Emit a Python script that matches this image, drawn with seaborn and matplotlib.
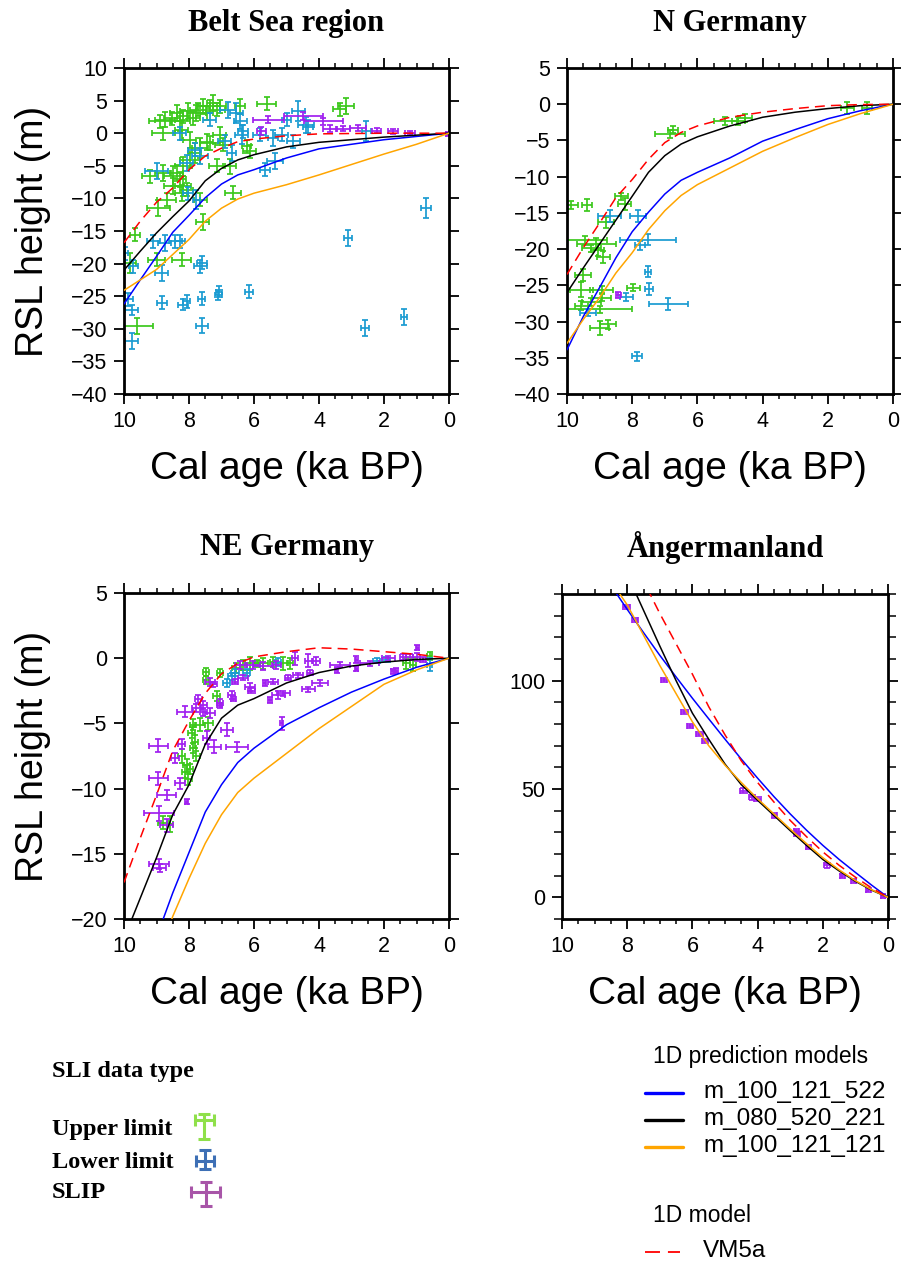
import numpy as np
import pandas as pd
import matplotlib
matplotlib.use("Agg")
import matplotlib.pyplot as plt
from matplotlib.ticker import MultipleLocator
import seaborn as sns

sns.set_style("ticks")
plt.rcParams['font.family'] = ['Liberation Sans', 'DejaVu Sans']
for k in ['text.color', 'axes.labelcolor', 'xtick.color', 'ytick.color', 'axes.edgecolor']:
    plt.rcParams[k] = 'black'

# ---------------- data ----------------
REGIONS = ["Belt Sea region", "N Germany", "NE Germany", "Ångermanland"]
MODELS = ["m_100_121_522", "m_080_520_221", "m_100_121_121", "VM5a"]

# model curves: ages (ka BP) and RSL (m)
BS_AGES = [10, 9.5, 9, 8.5, 8, 7.5, 7, 6.5, 6, 5, 4, 3, 2, 1, 0]
BS_M522 = [-26.2, -22.5, -18.9, -15.2, -12.6, -9.9, -7.8, -6.4, -5.6, -3.8, -2.4, -1.7, -1.0, -0.5, 0]
BS_M221 = [-21.0, -18.1, -15.3, -12.8, -10.4, -7.3, -5.4, -4.1, -3.3, -2.1, -1.4, -1.0, -0.6, -0.3, 0]
BS_M121 = [-24.1, -22.5, -20.9, -18.6, -16.3, -13.5, -11.5, -10.1, -9.2, -7.9, -6.4, -4.8, -3.2, -1.7, 0]
BS_VM5A = [-16.8, -13.5, -10.6, -8.4, -5.6, -3.5, -2.3, -1.3, -0.9, -0.4, -0.1, -0.05, 0, 0, 0]

NG_AGES = [10, 9.5, 9, 8.5, 8, 7.5, 7, 6.5, 6, 5, 4, 3, 2, 1, 0]
NG_M522 = [-33.9, -29.3, -25.3, -21.2, -17.6, -14.9, -12.4, -10.5, -9.4, -7.4, -5.1, -3.5, -2.0, -0.9, 0]
NG_M221 = [-26.0, -22.6, -19.3, -16.0, -12.7, -9.4, -7.1, -5.5, -4.5, -3.0, -1.8, -1.1, -0.6, -0.2, 0]
NG_M121 = [-33.0, -29.7, -26.7, -23.3, -20.5, -17.3, -14.7, -12.6, -11.1, -8.8, -6.5, -4.6, -2.8, -1.3, 0]
NG_VM5A = [-23.5, -19.8, -16.4, -12.9, -10.4, -7.6, -5.3, -3.9, -3.0, -1.8, -1.1, -0.6, -0.2, -0.05, 0]

NE_AGES = [10, 9.5, 9, 8.5, 8, 7.5, 7, 6.5, 6, 5, 4, 3, 2, 1, 0]
NE_M522 = [-28.0, -24.8, -21.4, -18.0, -14.9, -11.8, -9.7, -8.0, -6.9, -5.1, -3.8, -2.6, -1.6, -0.7, 0]
NE_M221 = [-21.5, -18.4, -15.3, -12.0, -9.7, -6.6, -4.6, -3.6, -3.1, -1.9, -1.1, -0.6, -0.3, -0.1, 0]
NE_M121 = [-30.0, -26.5, -23.3, -19.8, -16.9, -14.2, -12.0, -10.3, -9.2, -7.3, -5.4, -3.7, -2.0, -0.9, 0]
NE_VM5A = [-17.2, -13.8, -10.5, -7.1, -4.8, -2.7, -1.2, -0.4, 0.1, 0.5, 0.8, 0.7, 0.5, 0.3, 0]

AN_AGES = [9, 8.5, 8, 7.5, 7, 6.5, 6, 5.5, 5, 4.5, 4, 3.5, 3, 2.5, 2, 1.5, 1, 0.5, 0]
AN_M522 = [155, 144, 132.9, 122.2, 111.7, 101.7, 91.9, 82.4, 73.0, 63.8, 55.0, 46.5, 38.5, 31.0, 24.0, 17.5, 11.5, 5.6, 0]
AN_M221 = [167, 158, 149, 132.5, 116, 100, 85, 73, 61.5, 52, 44.8, 37.8, 30.8, 24.0, 17.5, 12.2, 7.4, 3.3, 0]
AN_M121 = [152, 146, 135, 121, 107, 94, 81, 70, 61, 53, 45.5, 38.5, 31.5, 24.8, 18.3, 12.7, 7.7, 3.5, 0]
AN_VM5A = [180, 168, 156, 146, 131, 117, 103, 88, 75, 63, 53, 44, 35.5, 28, 21, 14.8, 9.3, 4.3, 0]

# SLI data: (age, rsl, age error, rsl error)
BS_UPPER = [(8.89, 1.8, 0.35, 1.0), (8.74, 2.1, 0.3, 1.2), (8.53, 2.3, 0.25, 1.0), (8.38, 3.1, 0.2, 1.2),
            (8.28, 1.8, 0.3, 1.5), (8.18, 2.6, 0.2, 1.0), (8.02, 3.4, 0.25, 1.2), (7.87, 2.3, 0.2, 1.0),
            (7.72, 3.6, 0.25, 1.0), (7.56, 4.1, 0.2, 1.2), (7.36, 4.1, 0.3, 1.0), (7.26, 4.6, 0.2, 1.2),
            (7.15, 3.6, 0.25, 1.0), (7.46, 3.1, 0.2, 1.0), (7.77, 3.1, 0.3, 1.2), (7.05, 4.1, 0.2, 1.0),
            (6.43, 4.1, 0.15, 1.2), (5.61, 4.5, 0.3, 1.0), (3.36, 3.7, 0.2, 1.0), (3.16, 4.2, 0.25, 1.2),
            (8.79, 0.0, 0.35, 1.0), (8.23, 0.5, 0.2, 1.5), (7.97, -1.0, 0.2, 1.2), (7.66, -2.3, 0.25, 1.5),
            (7.46, -1.3, 0.2, 1.2), (7.36, -1.5, 0.3, 1.0), (7.05, -0.2, 0.2, 1.2), (6.95, -1.8, 0.25, 1.0),
            (7.82, -3.0, 0.2, 1.5), (7.97, -4.1, 0.3, 1.2), (8.18, -5.1, 0.25, 1.5), (8.38, -6.1, 0.2, 1.2),
            (8.48, -6.6, 0.3, 1.5), (8.28, -7.1, 0.2, 1.2), (8.18, -8.1, 0.25, 1.5), (8.23, -9.2, 0.2, 1.2),
            (9.20, -6.6, 0.25, 1.0), (8.79, -6.1, 0.25, 1.2), (8.07, -8.7, 0.2, 1.0), (8.48, -8.1, 0.3, 1.2),
            (8.69, -10.2, 0.3, 1.0), (8.94, -11.5, 0.35, 1.2), (7.66, -10.2, 0.2, 1.0), (6.64, -9.1, 0.25, 1.0),
            (7.15, -5.0, 0.25, 1.0), (6.74, -5.1, 0.2, 1.2), (6.13, -2.8, 0.2, 1.0), (6.23, -2.0, 0.15, 1.0),
            (7.58, -13.6, 0.2, 1.2), (9.66, -15.6, 0.15, 1.0), (9.82, -19.9, 0.2, 1.5), (9.00, -19.4, 0.25, 1.0),
            (8.23, -19.4, 0.3, 1.0), (9.61, -29.6, 0.5, 1.2)]
BS_LOWER = [(6.79, 3.6, 0.25, 1.2), (6.54, 3.1, 0.2, 1.5), (6.43, 1.8, 0.2, 1.2), (4.64, 3.4, 0.2, 1.5),
            (4.39, 1.3, 0.25, 1.2), (4.34, 1.0, 0.15, 1.0), (5.00, 2.1, 0.15, 1.0), (8.28, 0.0, 0.2, 1.0),
            (7.36, 2.1, 0.2, 1.0), (6.38, -0.2, 0.2, 1.5), (6.33, 0.3, 0.15, 1.0), (5.82, -0.2, 0.2, 1.0),
            (5.41, -0.7, 0.15, 1.2), (5.15, -0.2, 0.2, 1.0), (4.80, -1.2, 0.2, 1.0), (2.54, 0.3, 0.15, 1.5),
            (6.90, -1.2, 0.2, 1.0), (6.69, -3.0, 0.15, 1.2), (7.66, -3.5, 0.25, 1.2), (7.82, -2.5, 0.2, 1.0),
            (8.07, -4.6, 0.2, 1.2), (8.02, -9.2, 0.15, 1.0), (7.77, -10.2, 0.1, 1.5), (5.67, -5.6, 0.15, 1.0),
            (5.36, -4.3, 0.25, 1.2), (9.00, -5.8, 0.35, 1.2), (0.70, -11.5, 0.15, 1.5), (3.10, -16.1, 0.12, 1.2),
            (9.10, -16.6, 0.2, 1.0), (8.74, -16.8, 0.2, 1.2), (8.43, -16.6, 0.2, 1.0), (8.28, -16.6, 0.15, 1.0),
            (9.97, -18.4, 0.1, 1.0), (9.71, -20.4, 0.15, 1.0), (8.84, -21.4, 0.2, 1.2), (7.66, -20.4, 0.2, 1.0),
            (7.61, -19.9, 0.15, 1.0), (9.87, -25.5, 0.15, 1.0), (9.76, -27.1, 0.2, 0.8), (8.84, -26.0, 0.15, 1.0),
            (8.18, -26.3, 0.15, 0.8), (8.07, -25.8, 0.1, 1.0), (7.61, -25.4, 0.1, 1.0), (7.10, -24.8, 0.1, 0.8),
            (7.08, -24.3, 0.1, 0.8), (6.15, -24.3, 0.12, 1.0), (7.61, -29.5, 0.18, 1.2), (2.59, -29.9, 0.12, 1.2),
            (1.39, -28.2, 0.1, 1.2), (9.76, -31.9, 0.2, 1.2)]
BS_SLIP = [(5.56, 2.1, 0.47, 0.6), (4.49, 2.6, 0.6, 0.6), (3.87, 1.8, 0.6, 0.5), (3.67, 0.7, 0.2, 0.5),
           (3.26, 0.7, 0.2, 0.4), (2.80, 0.8, 0.25, 0.4), (2.23, 0.4, 0.15, 0.4), (1.72, 0.3, 0.15, 0.4),
           (1.21, 0.1, 0.15, 0.3), (5.77, 0.3, 0.15, 0.6), (0.03, -0.1, 0.05, 0.3)]

NG_UPPER = [(9.87, -13.9, 0.2, 0.5), (9.38, -13.9, 0.15, 0.8), (8.33, -12.7, 0.2, 0.5), (8.23, -13.8, 0.2, 0.8),
            (8.81, -16.3, 0.25, 0.8), (9.46, -18.8, 0.7, 0.6), (9.10, -19.3, 0.6, 0.8), (9.25, -19.9, 0.3, 0.5),
            (9.05, -20.1, 0.2, 0.8), (8.89, -21.1, 0.2, 0.8), (9.51, -23.6, 0.25, 0.8), (9.56, -25.6, 0.35, 1.0),
            (8.94, -25.6, 0.35, 0.5), (7.97, -25.3, 0.2, 0.5), (8.94, -26.7, 0.3, 0.5), (9.25, -27.3, 0.3, 0.6),
            (9.56, -27.8, 0.2, 0.6), (9.00, -28.3, 1.0, 0.5), (9.00, -30.9, 0.3, 1.0), (8.74, -30.4, 0.25, 0.6),
            (6.84, -4.1, 0.45, 0.5), (6.74, -3.5, 0.15, 0.5), (5.15, -2.3, 0.35, 0.5), (4.74, -2.3, 0.2, 0.5),
            (4.54, -1.9, 0.2, 0.5), (1.41, -0.5, 0.2, 0.8), (0.80, -0.5, 0.15, 0.8)]
NG_LOWER = [(8.69, -15.4, 0.35, 0.8), (7.82, -15.4, 0.25, 0.8), (7.51, -18.7, 0.85, 0.8), (7.75, -19.5, 0.15, 0.6),
            (7.51, -23.1, 0.1, 0.8), (7.48, -25.5, 0.12, 0.8), (8.18, -26.6, 0.2, 0.6), (6.90, -27.6, 0.6, 0.8),
            (9.35, -28.8, 0.25, 0.5), (7.85, -34.8, 0.15, 0.6)]
NG_SLIP = [(8.43, -26.3, 0.08, 0.4)]

NE_UPPER = [(7.48, -1.06, 0.08, 0.3), (7.48, -1.65, 0.08, 0.3), (7.05, -1.13, 0.1, 0.3), (7.15, -2.9, 0.1, 0.4),
            (7.66, -5.1, 0.15, 0.5), (7.87, -5.1, 0.1, 0.4), (7.41, -5.0, 0.15, 0.5), (7.92, -5.7, 0.1, 0.4),
            (7.82, -6.4, 0.1, 0.5), (7.87, -6.9, 0.1, 0.4), (8.23, -7.5, 0.1, 0.5), (7.77, -7.5, 0.1, 0.4),
            (8.07, -8.2, 0.1, 0.5), (7.97, -8.5, 0.1, 0.4), (8.12, -8.7, 0.1, 0.5), (8.02, -9.3, 0.1, 0.4),
            (8.79, -12.6, 0.15, 0.5), (8.59, -12.7, 0.1, 0.6), (6.54, -0.75, 0.15, 0.4), (6.33, -0.5, 0.1, 0.4),
            (6.13, -0.4, 0.15, 0.5), (5.92, -0.4, 0.1, 0.3), (5.72, -0.4, 0.15, 0.4), (5.41, -0.3, 0.1, 0.4),
            (5.10, -0.4, 0.15, 0.5), (4.90, -0.4, 0.1, 0.4), (1.31, -0.4, 0.1, 0.4), (1.11, -0.5, 0.1, 0.5),
            (0.59, 0.2, 0.08, 0.3)]
NE_LOWER = [(6.84, -1.9, 0.1, 0.3), (6.69, -1.4, 0.1, 0.3), (6.59, -1.1, 0.12, 0.3), (6.23, -1.1, 0.1, 0.3),
            (2.23, -0.2, 0.1, 0.2), (1.93, -0.1, 0.12, 0.2), (0.59, -0.5, 0.08, 0.5), (5.26, -0.3, 0.1, 0.3)]
NE_SLIP = [(7.71, -3.1, 0.1, 0.3), (7.56, -3.6, 0.1, 0.3), (7.36, -4.2, 0.15, 0.4), (7.05, -3.4, 0.1, 0.3),
           (7.05, -3.6, 0.08, 0.2), (6.69, -2.8, 0.1, 0.3), (6.64, -3.1, 0.08, 0.2), (8.12, -4.1, 0.25, 0.4),
           (7.77, -3.8, 0.15, 0.3), (7.56, -4.1, 0.1, 0.3), (7.46, -6.1, 0.1, 0.5), (6.84, -5.5, 0.18, 0.5),
           (7.23, -6.8, 0.2, 0.5), (6.52, -6.8, 0.35, 0.4), (8.94, -6.7, 0.3, 0.5), (8.23, -6.6, 0.1, 0.4),
           (8.43, -7.65, 0.12, 0.4), (8.28, -9.6, 0.15, 0.4), (8.07, -11.0, 0.05, 0.2), (8.94, -9.2, 0.3, 0.5),
           (8.69, -10.5, 0.3, 0.4), (8.92, -11.9, 0.45, 0.6), (8.69, -12.8, 0.2, 0.5), (8.92, -15.8, 0.3, 0.4),
           (8.90, -16.1, 0.2, 0.3), (5.15, -5.0, 0.05, 0.5), (4.33, -2.4, 0.2, 0.2), (3.97, -1.9, 0.25, 0.2),
           (5.51, -3.2, 0.05, 0.2), (5.26, -2.8, 0.2, 0.3), (5.10, -2.7, 0.2, 0.2), (6.13, -2.2, 0.15, 0.3),
           (6.08, -2.5, 0.1, 0.2), (5.67, -1.9, 0.05, 0.2), (5.41, -1.8, 0.15, 0.2), (4.95, -1.5, 0.1, 0.2),
           (4.64, -1.3, 0.15, 0.2), (4.28, -1.1, 0.1, 0.2), (3.46, -0.9, 0.05, 0.2), (2.85, -0.8, 0.05, 0.2),
           (1.72, -1.0, 0.05, 0.2), (1.62, -0.95, 0.05, 0.2), (6.43, -0.5, 0.15, 0.3), (6.02, -0.5, 0.2, 0.3),
           (5.72, -0.6, 0.3, 0.3), (5.31, -0.5, 0.15, 0.3), (4.74, 0.0, 0.1, 0.5), (4.33, -0.2, 0.1, 0.5),
           (4.08, -0.2, 0.1, 0.3), (3.36, -0.5, 0.3, 0.2), (2.85, -0.1, 0.05, 0.3), (2.44, -0.4, 0.3, 0.2),
           (1.87, 0.0, 0.2, 0.2), (1.41, 0.1, 0.1, 0.2), (1.21, 0.1, 0.1, 0.2), (1.00, 0.1, 0.1, 0.3),
           (0.80, -0.1, 0.1, 0.2), (0.98, 0.8, 0.05, 0.2), (7.36, -1.8, 0.15, 0.3), (7.25, -2.0, 0.1, 0.2),
           (6.59, -1.8, 0.1, 0.2), (6.33, -1.5, 0.15, 0.2)]

AN_SLIP = [(8.02, 134, 0.1, 1.0), (7.76, 128, 0.1, 1.0), (6.87, 100.3, 0.1, 1.0), (6.25, 85.4, 0.1, 1.0),
           (6.08, 79.1, 0.1, 1.0), (5.79, 75.3, 0.1, 1.0), (5.62, 72.2, 0.1, 1.0), (4.44, 49.3, 0.1, 1.0),
           (4.17, 46.1, 0.1, 1.0), (4.01, 45.3, 0.1, 1.0), (3.49, 37.8, 0.08, 1.0), (2.81, 30.4, 0.08, 1.2),
           (2.79, 29.2, 0.08, 1.0), (2.45, 23.2, 0.08, 1.0), (1.87, 14.7, 0.08, 1.0), (1.40, 10.0, 0.08, 1.0),
           (1.05, 7.4, 0.08, 1.0), (0.61, 3.4, 0.08, 1.0), (0.15, 0.5, 0.05, 0.8)]

SLI_TYPES = ["Upper limit", "Lower limit", "SLIP"]
SLI_COLORS = {"Upper limit": "#3cc81c", "Lower limit": "#1a9bd2", "SLIP": "#a020f0"}
SLI_LEGEND_COLORS = {"Upper limit": "#8fe04a", "Lower limit": "#3d6fb5", "SLIP": "#a855a8"}
MODEL_COLORS = {"m_100_121_522": "#0000ff", "m_080_520_221": "#000000",
                "m_100_121_121": "#ffa500", "VM5a": "#ff0000"}

# -------------- tables --------------
model_rows = []
for reg, ages, curves in [
        (REGIONS[0], BS_AGES, [BS_M522, BS_M221, BS_M121, BS_VM5A]),
        (REGIONS[1], NG_AGES, [NG_M522, NG_M221, NG_M121, NG_VM5A]),
        (REGIONS[2], NE_AGES, [NE_M522, NE_M221, NE_M121, NE_VM5A]),
        (REGIONS[3], AN_AGES, [AN_M522, AN_M221, AN_M121, AN_VM5A])]:
    for m, vals in zip(MODELS, curves):
        for a, v in zip(ages, vals):
            model_rows.append((reg, m, a, v))
models = pd.DataFrame(model_rows, columns=["region", "model", "age", "rsl"])

sli_rows = []
for reg, sets in [(REGIONS[0], [BS_UPPER, BS_LOWER, BS_SLIP]),
                  (REGIONS[1], [NG_UPPER, NG_LOWER, NG_SLIP]),
                  (REGIONS[2], [NE_UPPER, NE_LOWER, NE_SLIP]),
                  (REGIONS[3], [[], [], AN_SLIP])]:
    for t, pts in zip(SLI_TYPES, sets):
        for a, r, ea, er in pts:
            sli_rows.append((reg, t, a, r, ea, er))
sli = pd.DataFrame(sli_rows, columns=["region", "type", "age", "rsl", "eage", "ersl"])

# -------------- figure --------------
W, H = 901, 1268
fig = plt.figure(figsize=(W / 100, H / 100), dpi=100)

def frac(l, t, r, b):
    return [l / W, 1 - b / H, (r - l) / W, (b - t) / H]

boxes = [frac(124, 68, 449, 394), frac(567, 68, 893, 394),
         frac(124, 593, 449, 919), frac(562, 594, 888, 919)]
ylims = [(-40, 10), (-40, 5), (-20, 5), (-10, 140)]

axes = []
for i, reg in enumerate(REGIONS):
    ax = fig.add_axes(boxes[i])
    axes.append(ax)
    d = sli[sli.region == reg]
    for t in SLI_TYPES:
        dd = d[d.type == t]
        if len(dd) == 0:
            continue
        ax.errorbar(dd.age, dd.rsl, xerr=dd.eage, yerr=dd.ersl, fmt='none',
                    ecolor=SLI_COLORS[t], elinewidth=1.25, capsize=2.3, capthick=1.25,
                    zorder=2)
    dm = models[models.region == reg]
    for m in MODELS:
        sns.lineplot(data=dm[dm.model == m], x="age", y="rsl", ax=ax, estimator=None,
                     color=MODEL_COLORS[m], lw=1.1, sort=False,
                     linestyle=(0, (6.5, 4)) if m == "VM5a" else "-", zorder=3)
    ax.set_xlim(10, 0)
    ax.set_ylim(*ylims[i])
    ax.set_xlabel("")
    ax.set_ylabel("")
    ax.xaxis.set_major_locator(MultipleLocator(2))
    ax.xaxis.set_minor_locator(MultipleLocator(0.5))
    if i < 3:
        ax.yaxis.set_major_locator(MultipleLocator(5))
    else:
        ax.yaxis.set_major_locator(MultipleLocator(50))
        ax.yaxis.set_minor_locator(MultipleLocator(10))
    ax.tick_params(which='major', direction='out', length=7, width=1.3,
                   top=True, right=True, labelsize=15.5, pad=5, colors='black')
    ax.tick_params(which='minor', direction='out', length=3.5, width=1.1,
                   top=True, right=True, colors='black')
    if i == 3:
        ax.tick_params(axis='y', which='minor', length=6)
    for s in ax.spines.values():
        s.set_linewidth(2.0)
        s.set_color('black')
        s.set_visible(True)
    cx = (boxes[i][0] + boxes[i][2] / 2)
    ty = 1 - (24 if i < 2 else 548) / H
    fig.text(cx, ty, reg, ha='center', va='center', fontsize=22,
             fontweight='bold', family=['Liberation Serif', 'DejaVu Serif'])
    ly = 1 - (469 if i < 2 else 994) / H
    fig.text(cx, ly, "Cal age (ka BP)", ha='center', va='center', fontsize=28)

for i in (0, 2):
    cy = boxes[i][1] + boxes[i][3] / 2
    fig.text(33 / W, cy, "RSL height (m)", rotation=90, ha='center', va='center', fontsize=27)

# -------------- legends (overlay in pixel space) --------------
lg = fig.add_axes([0, 0, 1, 1], zorder=-1)
lg.set_xlim(0, W)
lg.set_ylim(H, 0)
lg.axis('off')

serif = ['Liberation Serif', 'DejaVu Serif']
lg.text(52, 1072, "SLI data type", fontsize=17.5, fontweight='bold', family=serif, va='center')
leg_y = [1130, 1162, 1193]
sym = {"Upper limit": (204, 1120, 9.5, 6, 19),
       "Lower limit": (205, 1161, 9, 11, 8),
       "SLIP": (205.5, 1192, 14.5, 10, 14)}
for t, y in zip(SLI_TYPES, leg_y):
    lg.text(52, y, t, fontsize=17.5, fontweight='bold', family=serif, va='center')
    sx, sy, ex, eu, ed = sym[t]
    lg.errorbar([sx], [sy], xerr=[[ex], [ex]], yerr=[[eu], [ed]], fmt='none',
                ecolor=SLI_LEGEND_COLORS[t], elinewidth=2.2, capsize=4, capthick=2.2)

lg.text(653, 1057, "1D prediction models", fontsize=16.5, va='center')
for m, y in zip(MODELS[:3], [1093, 1120, 1147]):
    lg.plot([645, 683], [y, y], color=MODEL_COLORS[m], lw=2.4)
    lg.text(703, y - 1, m, fontsize=17.5, va='center')
lg.text(653, 1215, "1D model", fontsize=16.5, va='center')
lg.plot([645, 680], [1252, 1252], color=MODEL_COLORS["VM5a"], lw=1.3, linestyle=(0, (8.3, 4.4)))
lg.text(703, 1251, "VM5a", fontsize=17.5, va='center')

fig.savefig("out.png", dpi=100)
